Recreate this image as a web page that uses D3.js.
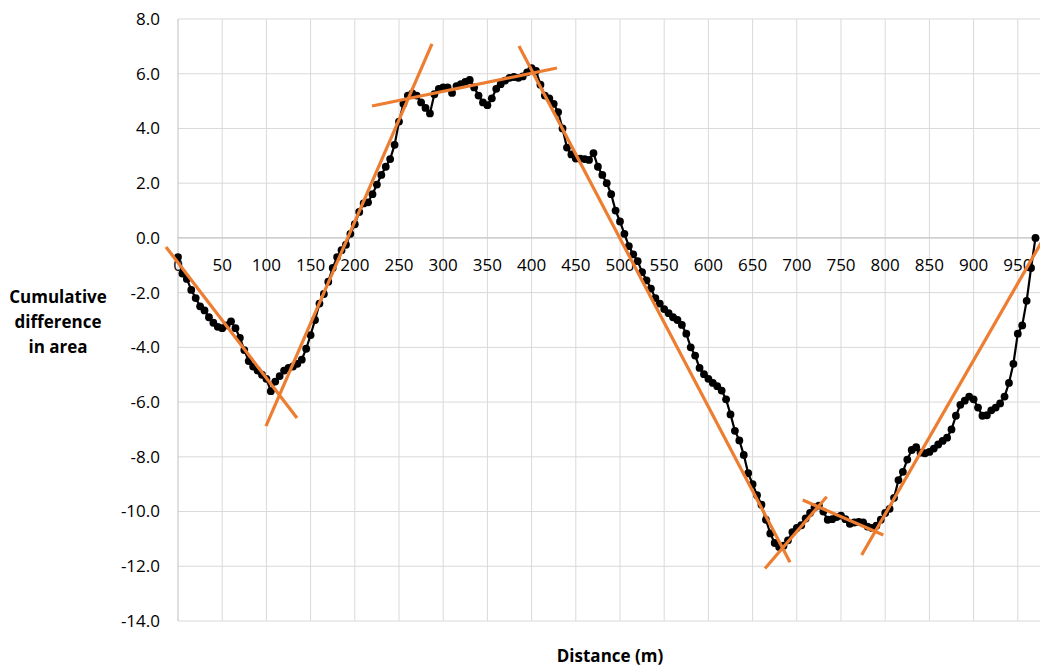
<!DOCTYPE html>
<html>
<head>
<meta charset="utf-8">
<script src="https://cdn.jsdelivr.net/npm/d3@7"></script>
<style>
  html, body { margin: 0; padding: 0; background: #fff; }
  svg { display: block; font-family: "Open Sans", "Noto Sans", sans-serif; }
</style>
</head>
<body>
<svg id="chart" width="1040" height="666"></svg>
<script>
// Cumulative difference in area along the section, sampled every 5 m
const distanceStep = 5;
const cumulativeDiff = [
  -0.7, -1.3, -1.5, -1.9, -2.2, -2.5, -2.65, -2.9, -3.1, -3.25,
  -3.3, -3.2, -3.05, -3.3, -3.65, -4.1, -4.5, -4.7, -4.85, -5.0,
  -5.15, -5.6, -5.25, -5.05, -4.85, -4.75, -4.7, -4.6, -4.45, -4.05,
  -3.55, -3.0, -2.4, -2.05, -1.6, -1.1, -0.7, -0.45, -0.25, 0.15,
  0.5, 0.95, 1.26, 1.3, 1.6, 1.95, 2.3, 2.6, 2.88, 3.4,
  4.25, 4.9, 5.2, 5.28, 5.2, 4.95, 4.75, 4.55, 5.25, 5.45,
  5.5, 5.5, 5.3, 5.55, 5.62, 5.7, 5.77, 5.5, 5.2, 4.95,
  4.85, 5.1, 5.45, 5.62, 5.75, 5.85, 5.88, 5.85, 5.9, 6.05,
  6.2, 6.1, 5.6, 5.2, 5.1, 4.9, 4.6, 4.0, 3.3, 3.05,
  2.9, 2.9, 2.88, 2.85, 3.1, 2.6, 2.3, 2.0, 1.6, 1.0,
  0.6, 0.15, -0.3, -0.6, -0.85, -1.25, -1.55, -1.85, -2.2, -2.4,
  -2.6, -2.75, -2.9, -3.0, -3.18, -3.5, -4.0, -4.3, -4.75, -4.98,
  -5.15, -5.3, -5.42, -5.58, -5.9, -6.45, -7.05, -7.4, -7.93, -8.6,
  -9.0, -9.4, -9.75, -10.3, -10.8, -11.15, -11.3, -11.25, -11.05, -10.75,
  -10.6, -10.5, -10.25, -10.05, -9.85, -9.78, -10.0, -10.3, -10.28, -10.2,
  -10.15, -10.28, -10.45, -10.4, -10.38, -10.4, -10.55, -10.6, -10.52, -10.3,
  -10.05, -9.9, -9.5, -8.85, -8.55, -8.1, -7.75, -7.65, -7.85, -7.87,
  -7.82, -7.7, -7.55, -7.42, -7.3, -7.0, -6.5, -6.1, -5.95, -5.8,
  -5.9, -6.2, -6.5, -6.48, -6.3, -6.2, -6.05, -5.8, -5.3, -4.6,
  -3.5, -3.2, -2.3, -1.1, 0.0
];

// Fitted trend segments: [startDistance, startValue, endDistance, endValue]
const trendSegments = [
  [-13.6, -0.33, 134.6, -6.58],
  [99.5, -6.88, 287.3, 7.09],
  [219.5, 4.82, 428.7, 6.21],
  [385.7, 7.01, 692.3, -11.85],
  [664.0, -12.08, 733.8, -9.46],
  [706.7, -9.58, 797.9, -10.86],
  [773.4, -11.59, 980.8, 0.07]
];

const xTickValues = d3.range(0, 1000, 50);
const yTickValues = d3.range(-14, 8.01, 2);
const yAxisTitle = ["Cumulative", "difference", "in area"];
const xAxisTitle = "Distance (m)";

const points = cumulativeDiff.map((v, i) => ({ d: i * distanceStep, v }));

const svg = d3.select("#chart");
const x = d3.scaleLinear().domain([0, 1000]).range([178, 1062]);
const y = d3.scaleLinear().domain([-14, 8]).range([621, 19]);

// Tick numbers use a plain hyphen for negatives
const fmt = d3.formatLocale({ decimal: ".", thousands: ",", grouping: [3], currency: ["", ""], minus: "-" }).format(".1f");

const gridColor = "#d9d9d9";

// Gridlines
svg.append("g").selectAll("line").data(yTickValues).join("line")
  .attr("x1", x(0)).attr("x2", x(1000))
  .attr("y1", d => y(d)).attr("y2", d => y(d))
  .attr("stroke", gridColor).attr("stroke-width", 1);

svg.append("g").selectAll("line").data(xTickValues.filter(d => d > 0)).join("line")
  .attr("x1", d => x(d)).attr("x2", d => x(d))
  .attr("y1", y(8)).attr("y2", y(-14))
  .attr("stroke", gridColor).attr("stroke-width", 1);

// Axis lines: vertical at distance 0, horizontal at value 0
svg.append("line")
  .attr("x1", x(0)).attr("x2", x(0)).attr("y1", y(8)).attr("y2", y(-14))
  .attr("stroke", "#bfbfbf").attr("stroke-width", 1);
svg.append("line")
  .attr("x1", x(0)).attr("x2", x(1000)).attr("y1", y(0)).attr("y2", y(0))
  .attr("stroke", "#bfbfbf").attr("stroke-width", 1);

// Y tick labels
svg.append("g").selectAll("text").data(yTickValues).join("text")
  .attr("x", 160).attr("y", d => y(d))
  .attr("dy", "0.35em")
  .attr("text-anchor", "end")
  .attr("font-size", 17).attr("fill", "#000")
  .text(d => fmt(d));

// X tick labels sit just below the zero line
svg.append("g").selectAll("text").data(xTickValues).join("text")
  .attr("x", d => x(d)).attr("y", y(0) + 27)
  .attr("dy", "0.35em")
  .attr("text-anchor", "middle")
  .attr("font-size", 17).attr("fill", "#000")
  .text(d => d);

// Data line with markers
const line = d3.line().x(d => x(d.d)).y(d => y(d.v));
svg.append("path").datum(points)
  .attr("d", line).attr("fill", "none")
  .attr("stroke", "#000").attr("stroke-width", 2.2);
svg.append("g").selectAll("circle").data(points).join("circle")
  .attr("cx", d => x(d.d)).attr("cy", d => y(d.v)).attr("r", 3.9)
  .attr("fill", "#000");

// Trend segments
svg.append("g").selectAll("line").data(trendSegments).join("line")
  .attr("x1", d => x(d[0])).attr("y1", d => y(d[1]))
  .attr("x2", d => x(d[2])).attr("y2", d => y(d[3]))
  .attr("stroke", "#ed7d31").attr("stroke-width", 3.2);

// Axis titles
const yt = svg.append("text")
  .attr("text-anchor", "middle").attr("font-size", 17).attr("font-weight", "bold");
yAxisTitle.forEach((t, i) => {
  yt.append("tspan").attr("x", 58).attr("y", 303 + i * 25).text(t);
});
svg.append("text")
  .attr("x", 610).attr("y", 662)
  .attr("text-anchor", "middle").attr("font-size", 17).attr("font-weight", "bold")
  .text(xAxisTitle);
</script>
</body>
</html>
